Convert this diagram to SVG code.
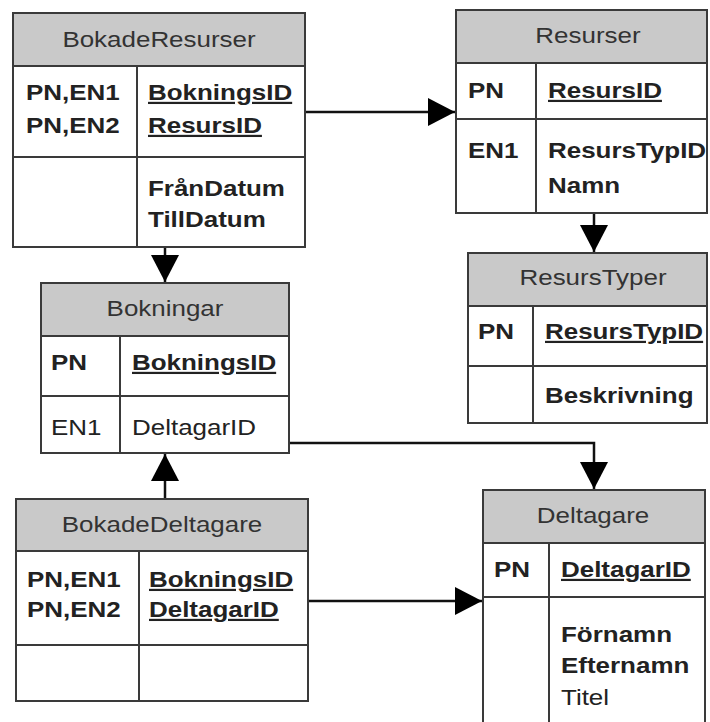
<svg xmlns="http://www.w3.org/2000/svg" width="710" height="722" viewBox="0 0 710 722">
<style>
.box{fill:#fff;stroke:#3a3a3a;stroke-width:2}
.hdr{fill:#c9c9c9;stroke:#3a3a3a;stroke-width:2}
.ln{stroke:#3a3a3a;stroke-width:2;fill:none}
.t{font-family:"Liberation Sans",Arial,sans-serif;font-size:22px;fill:#333}
.b{font-family:"Liberation Sans",Arial,sans-serif;font-size:22px;font-weight:bold;fill:#222}
.r{font-family:"Liberation Sans",Arial,sans-serif;font-size:22px;fill:#222}
.u{text-decoration:underline}
.c{stroke:#111;stroke-width:2.5;fill:none}
</style>
<defs>
<marker id="ah" markerUnits="userSpaceOnUse" markerWidth="28" markerHeight="28" refX="27" refY="14" orient="auto" viewBox="0 0 28 28">
<path d="M0,0 L27,14 L0,28 Z" fill="#000"/>
</marker>
</defs>
<g id="connectors">
<path class="c" d="M305,112 H455" marker-end="url(#ah)"/>
<path class="c" d="M594,213 V252" marker-end="url(#ah)"/>
<path class="c" d="M165,247 V282" marker-end="url(#ah)"/>
<path class="c" d="M290,443 H594 V489" marker-end="url(#ah)"/>
<path class="c" d="M165,499 V454" marker-end="url(#ah)"/>
<path class="c" d="M308,601 H482" marker-end="url(#ah)"/>
</g>
<g id="BokadeResurser">
<rect class="box" x="13" y="13" width="292" height="234"/>
<rect class="hdr" x="13" y="13" width="292" height="53"/>
<path class="ln" d="M137,66 V247 M13,157 H305"/>
<text class="t" text-anchor="middle" transform="translate(159,47) scale(1.18,1)">BokadeResurser</text>
<text class="b" transform="translate(26,100) scale(1.18,1)">PN,EN1</text>
<text class="b" transform="translate(26,133) scale(1.18,1)">PN,EN2</text>
<text class="b u" transform="translate(148,100) scale(1.18,1)">BokningsID</text>
<text class="b u" transform="translate(148,133) scale(1.18,1)">ResursID</text>
<text class="b" transform="translate(148,196) scale(1.18,1)">FrånDatum</text>
<text class="b" transform="translate(148,227) scale(1.18,1)">TillDatum</text>
</g>
<g id="Resurser">
<rect class="box" x="456" y="10" width="251" height="203"/>
<rect class="hdr" x="456" y="10" width="251" height="53"/>
<path class="ln" d="M536,63 V213 M456,119 H707"/>
<text class="t" text-anchor="middle" transform="translate(588,43) scale(1.18,1)">Resurser</text>
<text class="b" transform="translate(468,98) scale(1.18,1)">PN</text>
<text class="b u" transform="translate(548,98) scale(1.18,1)">ResursID</text>
<text class="b" transform="translate(468,158) scale(1.18,1)">EN1</text>
<text class="b" transform="translate(548,158) scale(1.18,1)">ResursTypID</text>
<text class="b" transform="translate(548,193) scale(1.18,1)">Namn</text>
</g>
<g id="ResursTyper">
<rect class="box" x="468" y="253" width="239" height="170"/>
<rect class="hdr" x="468" y="253" width="239" height="53"/>
<path class="ln" d="M533,306 V423 M468,366 H707"/>
<text class="t" text-anchor="middle" transform="translate(593,285) scale(1.18,1)">ResursTyper</text>
<text class="b" transform="translate(478,339) scale(1.18,1)">PN</text>
<text class="b u" transform="translate(545,339) scale(1.18,1)">ResursTypID</text>
<text class="b" transform="translate(545,403) scale(1.18,1)">Beskrivning</text>
</g>
<g id="Bokningar">
<rect class="box" x="41" y="283" width="248" height="170"/>
<rect class="hdr" x="41" y="283" width="248" height="53"/>
<path class="ln" d="M120,336 V453 M41,396 H289"/>
<text class="t" text-anchor="middle" transform="translate(165,316) scale(1.18,1)">Bokningar</text>
<text class="b" transform="translate(51,370) scale(1.18,1)">PN</text>
<text class="b u" transform="translate(132,370) scale(1.18,1)">BokningsID</text>
<text class="r" transform="translate(51,435) scale(1.18,1)">EN1</text>
<text class="r" transform="translate(132,435) scale(1.18,1)">DeltagarID</text>
</g>
<g id="BokadeDeltagare">
<rect class="box" x="16" y="499" width="292" height="202"/>
<rect class="hdr" x="16" y="499" width="292" height="52"/>
<path class="ln" d="M139,551 V701 M16,645 H308"/>
<text class="t" text-anchor="middle" transform="translate(162,532) scale(1.18,1)">BokadeDeltagare</text>
<text class="b" transform="translate(27,587) scale(1.18,1)">PN,EN1</text>
<text class="b" transform="translate(27,617) scale(1.18,1)">PN,EN2</text>
<text class="b u" transform="translate(149,587) scale(1.18,1)">BokningsID</text>
<text class="b u" transform="translate(149,617) scale(1.18,1)">DeltagarID</text>
</g>
<g id="Deltagare">
<rect class="box" x="483" y="490" width="222" height="250"/>
<rect class="hdr" x="483" y="490" width="222" height="53"/>
<path class="ln" d="M549,543 V730 M483,597 H705"/>
<text class="t" text-anchor="middle" transform="translate(593,523) scale(1.18,1)">Deltagare</text>
<text class="b" transform="translate(494,577) scale(1.18,1)">PN</text>
<text class="b u" transform="translate(561,577) scale(1.18,1)">DeltagarID</text>
<text class="b" transform="translate(561,642) scale(1.18,1)">Förnamn</text>
<text class="b" transform="translate(561,673) scale(1.18,1)">Efternamn</text>
<text class="r" transform="translate(561,705) scale(1.18,1)">Titel</text>
</g>
</svg>
